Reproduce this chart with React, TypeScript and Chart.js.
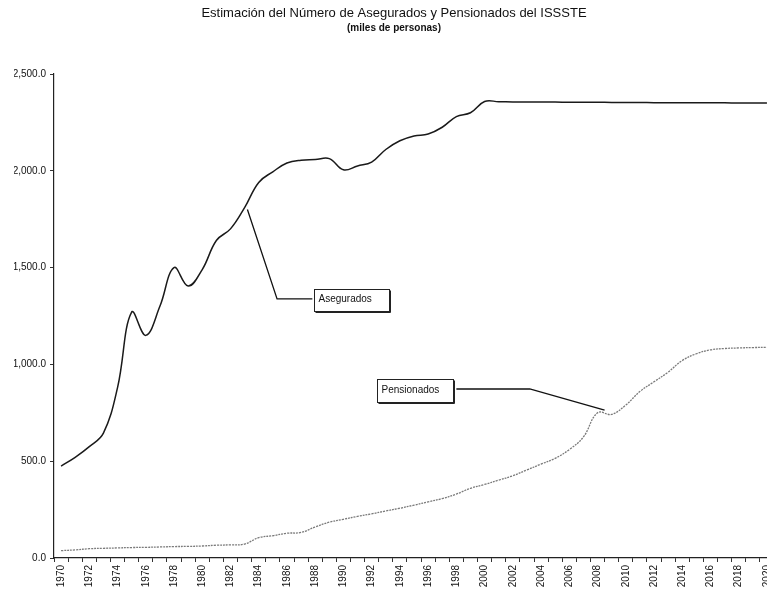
import React, { useEffect, useRef } from "react";
import { Chart, registerables } from "chart.js";

Chart.register(...registerables);

const years: string[] = [];
for (let y = 1970; y <= 2020; y++) years.push(String(y));

const asegurados: number[] = [
  475, 520, 575, 645, 880, 1270, 1150, 1300, 1500, 1405,
  1490, 1640, 1700, 1810, 1940, 1995, 2040, 2055, 2058, 2063,
  2005, 2025, 2045, 2110, 2155, 2180, 2190, 2225, 2280, 2300,
  2358, 2357, 2356, 2355, 2355, 2355, 2354, 2354, 2354, 2353,
  2353, 2353, 2352, 2352, 2352, 2351, 2351, 2351, 2350, 2350,
  2350,
];

const pensionados: number[] = [
  38, 42, 48, 50, 52, 54, 55, 57, 59, 60,
  62, 66, 68, 72, 105, 115, 128, 132, 160, 185,
  200, 215, 228, 243, 257, 273, 290, 307, 330, 360,
  380, 402, 425, 455, 485, 515, 560, 625, 750, 742,
  790, 860, 910, 960, 1020, 1055, 1075, 1082, 1085, 1087,
  1088,
];

const yTicks: number[] = [0, 500, 1000, 1500, 2000, 2500];

const TITLE = "Estimación del Número de Asegurados y Pensionados del ISSSTE";
const SUBTITLE = "(miles de personas)";
const FONT = "'Liberation Sans', Arial, sans-serif";

// Callout annotations, positioned in data space (category index, value)
const callouts = [
  {
    text: "Asegurados",
    box: { x0: 17.9, x1: 23.2, yTop: 1389, yBot: 1276 },
    line: [
      [13.2, 1800],
      [15.3, 1338],
      [17.8, 1338],
    ],
  },
  {
    text: "Pensionados",
    box: { x0: 22.35, x1: 27.75, yTop: 925, yBot: 806 },
    line: [
      [28.0, 873],
      [33.2, 873],
      [38.5, 764],
    ],
  },
];

const calloutPlugin = {
  id: "callouts",
  afterDatasetsDraw(chart: any) {
    const { ctx } = chart;
    const xs = chart.scales.x;
    const ys = chart.scales.y;
    ctx.save();
    for (const c of callouts) {
      ctx.strokeStyle = "#111";
      ctx.lineWidth = 1.3;
      ctx.beginPath();
      c.line.forEach(([i, v], k) => {
        const px = xs.getPixelForValue(i);
        const py = ys.getPixelForValue(v);
        if (k === 0) ctx.moveTo(px, py);
        else ctx.lineTo(px, py);
      });
      ctx.stroke();
      const bx0 = Math.round(xs.getPixelForValue(c.box.x0)) + 0.5;
      const bx1 = Math.round(xs.getPixelForValue(c.box.x1)) + 0.5;
      const by0 = Math.round(ys.getPixelForValue(c.box.yTop)) + 0.5;
      const by1 = Math.round(ys.getPixelForValue(c.box.yBot)) + 0.5;
      ctx.fillStyle = "#fff";
      ctx.fillRect(bx0, by0, bx1 - bx0, by1 - by0);
      ctx.lineWidth = 1;
      ctx.strokeStyle = "#222";
      ctx.strokeRect(bx0, by0, bx1 - bx0, by1 - by0);
      ctx.beginPath();
      ctx.moveTo(bx0 + 1, by1 + 1);
      ctx.lineTo(bx1 + 1, by1 + 1);
      ctx.lineTo(bx1 + 1, by0 + 1);
      ctx.stroke();
      ctx.fillStyle = "#111";
      ctx.font = `10px ${FONT}`;
      ctx.textBaseline = "middle";
      ctx.textAlign = "left";
      ctx.fillText(c.text, bx0 + 4, (by0 + by1) / 2 - 1);
    }
    ctx.restore();
  },
};

export default function App() {
  const ref = useRef<HTMLCanvasElement | null>(null);

  useEffect(() => {
    if (!ref.current) return;
    const chart = new Chart(ref.current, {
      type: "line",
      data: {
        labels: years,
        datasets: [
          {
            label: "Asegurados",
            data: asegurados,
            borderColor: "#1a1a1a",
            borderWidth: 1.5,
            pointRadius: 0,
            tension: 0.4,
            fill: false,
          },
          {
            label: "Pensionados",
            data: pensionados,
            borderColor: "#7a7a7a",
            borderWidth: 1.3,
            borderDash: [2, 1],
            pointRadius: 0,
            tension: 0.4,
            fill: false,
          },
        ],
      },
      options: {
        animation: false,
        responsive: true,
        maintainAspectRatio: false,
        layout: { padding: { left: 14, right: 26, top: 0, bottom: 0 } },
        plugins: {
          legend: { display: false },
          tooltip: { enabled: false },
          title: {
            display: true,
            text: TITLE,
            color: "#111",
            font: { family: FONT, size: 13, weight: "normal" },
            padding: { top: 6, bottom: 1 },
          },
          subtitle: {
            display: true,
            text: SUBTITLE,
            color: "#111",
            font: { family: FONT, size: 10, weight: "bold" },
            padding: { top: 0, bottom: 39.4 },
          },
        },
        scales: {
          x: {
            type: "category",
            offset: true,
            grid: {
              display: true,
              drawOnChartArea: false,
              drawTicks: true,
              tickLength: 4,
              offset: true,
              color: "#333",
            },
            border: { display: true, color: "#222", width: 1.2 },
            ticks: {
              autoSkip: false,
              maxRotation: 90,
              minRotation: 90,
              padding: 3,
              color: "#111",
              font: { family: FONT, size: 10 },
              callback: (_v: any, i: number) => (i % 2 === 0 ? years[i] : ""),
            },
            afterFit: (s: any) => {
              s.height = 32;
            },
          },
          y: {
            type: "linear",
            min: 0,
            max: 2500,
            grid: {
              display: true,
              drawOnChartArea: false,
              drawTicks: true,
              tickLength: 4,
              color: "#333",
            },
            border: { display: true, color: "#222", width: 1.2 },
            afterBuildTicks: (s: any) => {
              s.ticks = yTicks.map((v) => ({ value: v }));
            },
            ticks: {
              padding: 4,
              color: "#111",
              font: { family: FONT, size: 10 },
              callback: (v: any) =>
                Number(v).toLocaleString("en-US", {
                  minimumFractionDigits: 1,
                  maximumFractionDigits: 1,
                }),
            },
            afterFit: (s: any) => {
              s.width = 40;
            },
          },
        },
      },
      plugins: [calloutPlugin],
    });
    return () => chart.destroy();
  }, []);

  return (
    <div
      style={{
        position: "fixed",
        left: 0,
        top: 0,
        width: 767,
        height: 590,
        overflow: "hidden",
        background: "#fff",
      }}
    >
      <div style={{ position: "relative", width: 800, height: 590 }}>
        <canvas ref={ref} />
      </div>
    </div>
  );
}
